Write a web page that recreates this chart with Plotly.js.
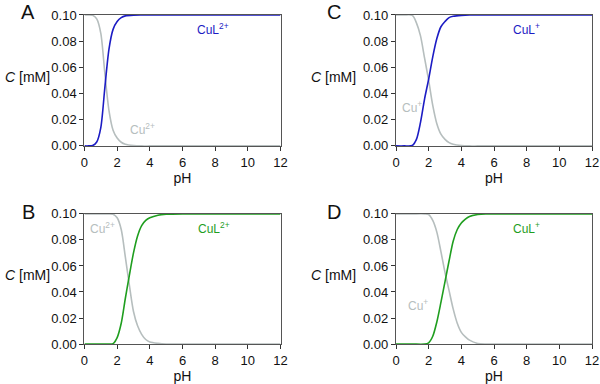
<!DOCTYPE html>
<html>
<head>
<meta charset="utf-8">
<script src="https://cdn.plot.ly/plotly-3.0.1.min.js"></script>
<style>
  body { margin: 0; }
  #plotArea { width: 600px; height: 384px; }
</style>
</head>
<body>
<div id="plotArea"></div>
<script>
// Panel A: Cu2+ / CuL2+ (blue)
var phA = [0, 0.25, 0.5, 0.75, 1, 1.25, 1.5, 1.75, 2, 2.25, 2.5, 3, 3.5, 4, 5, 6, 8, 10, 12];
var culA = [0, 0, 0.0003, 0.003, 0.014, 0.045, 0.074, 0.089, 0.095, 0.098, 0.0993, 0.0999, 0.1, 0.1, 0.1, 0.1, 0.1, 0.1, 0.1];
var cuA = [0.1, 0.1, 0.0997, 0.097, 0.086, 0.055, 0.027, 0.012, 0.006, 0.0028, 0.0013, 0.0003, 0, 0, 0, 0, 0, 0, 0];

// Panel C: Cu+ / CuL+ (blue)
var phC = [0, 0.5, 1, 1.25, 1.5, 1.75, 2, 2.25, 2.5, 2.75, 3, 3.25, 3.5, 4, 4.5, 5, 6, 8, 10, 12];
var culC = [0, 0, 0.0003, 0.005, 0.018, 0.036, 0.051, 0.068, 0.082, 0.091, 0.095, 0.098, 0.099, 0.0997, 0.1, 0.1, 0.1, 0.1, 0.1, 0.1];
var cuC = [0.1, 0.1, 0.0997, 0.094, 0.084, 0.067, 0.050, 0.031, 0.017, 0.009, 0.005, 0.0025, 0.0013, 0.0003, 0, 0, 0, 0, 0, 0];

// Panel B: Cu2+ / CuL2+ (green)
var phB = [0, 1, 1.5, 1.75, 2, 2.25, 2.5, 2.75, 3, 3.25, 3.5, 3.75, 4, 4.5, 5, 6, 8, 10, 12];
var culB = [0, 0, 0, 0.0003, 0.005, 0.016, 0.035, 0.053, 0.070, 0.083, 0.091, 0.095, 0.097, 0.099, 0.0997, 0.1, 0.1, 0.1, 0.1];
var cuB = [0.1, 0.1, 0.1, 0.0997, 0.097, 0.088, 0.067, 0.045, 0.025, 0.014, 0.0075, 0.0035, 0.0016, 0.0005, 0, 0, 0, 0, 0];

// Panel D: Cu+ / CuL+ (green)
var phD = [0, 1, 1.75, 2, 2.25, 2.5, 2.75, 3, 3.25, 3.5, 3.75, 4, 4.25, 4.5, 5, 5.5, 6, 8, 10, 12];
var culD = [0, 0, 0, 0.001, 0.006, 0.017, 0.032, 0.048, 0.064, 0.079, 0.088, 0.093, 0.096, 0.098, 0.0995, 0.1, 0.1, 0.1, 0.1, 0.1];
var cuD = [0.1, 0.1, 0.1, 0.0995, 0.095, 0.086, 0.071, 0.055, 0.041, 0.027, 0.016, 0.009, 0.0055, 0.003, 0.0005, 0, 0, 0, 0, 0];

var blue = "#1c1cc4";
var green = "#1f9e1f";
var grey = "#b6bebe";
var font = "Liberation Sans, Arial, sans-serif";

function curve(x, y, color, xa, ya) {
    return {
        x: x, y: y, xaxis: xa, yaxis: ya,
        type: "scatter", mode: "lines",
        line: {color: color, width: 1.6, shape: "spline", smoothing: 0.8},
        cliponaxis: false, hoverinfo: "skip"
    };
}

var data = [
    curve(phA, cuA, grey, "x", "y"),
    curve(phA, culA, blue, "x", "y"),
    curve(phC, cuC, grey, "x2", "y2"),
    curve(phC, culC, blue, "x2", "y2"),
    curve(phB, cuB, grey, "x3", "y3"),
    curve(phB, culB, green, "x3", "y3"),
    curve(phD, cuD, grey, "x4", "y4"),
    curve(phD, culD, green, "x4", "y4")
];

function xAxis(domain, anchor) {
    return {
        domain: domain, anchor: anchor, range: [0, 12], dtick: 2,
        showgrid: false, zeroline: false,
        showline: true, mirror: true, linecolor: "#555", linewidth: 1.2,
        ticks: "outside", ticklen: 4, tickcolor: "#333",
        tickfont: {family: font, size: 13, color: "#111"},
        title: {text: "pH", font: {family: font, size: 14, color: "#111"}, standoff: 0}
    };
}
function yAxis(domain, anchor) {
    return {
        domain: domain, anchor: anchor, range: [0, 0.1], dtick: 0.02, tickformat: ".2f",
        showgrid: false, zeroline: false,
        showline: true, mirror: true, linecolor: "#555", linewidth: 1.2,
        ticks: "outside", ticklen: 4, tickcolor: "#333",
        tickfont: {family: font, size: 13, color: "#111"}
    };
}

var left = [0.1408, 0.4675];
var right = [0.66, 0.9867];
var top_ = [0.62, 0.961];
var bottom = [0.104, 0.443];

function label(text, x, y, xref, yref, color) {
    return {text: text, x: x, y: y, xref: xref, yref: yref, showarrow: false,
        xanchor: "center", yanchor: "middle",
        font: {family: font, size: 12, color: color}};
}
function letter(text, x, y) {
    return {text: text, x: x, y: y, xref: "paper", yref: "paper", showarrow: false,
        xanchor: "center", yanchor: "middle",
        font: {family: font, size: 20, color: "#111"}};
}
function ytitle(x, y) {
    return {text: "<i>C</i> [mM]", x: x, y: y, xref: "paper", yref: "paper", showarrow: false,
        xanchor: "center", yanchor: "middle",
        font: {family: font, size: 14, color: "#111"}};
}

var annotations = [
    label("CuL<sup>2+</sup>", 7.85, 0.089, "x", "y", blue),
    label("Cu<sup>2+</sup>", 3.55, 0.013, "x", "y", grey),
    label("CuL<sup>+</sup>", 8.0, 0.089, "x2", "y2", blue),
    label("Cu<sup>+</sup>", 1.0, 0.030, "x2", "y2", grey),
    label("Cu<sup>2+</sup>", 1.1, 0.089, "x3", "y3", grey),
    label("CuL<sup>2+</sup>", 7.9, 0.089, "x3", "y3", green),
    label("CuL<sup>+</sup>", 8.0, 0.089, "x4", "y4", green),
    label("Cu<sup>+</sup>", 1.35, 0.030, "x4", "y4", grey),
    letter("A", 0.047, 0.969),
    letter("C", 0.557, 0.969),
    letter("B", 0.047, 0.448),
    letter("D", 0.557, 0.448),
    ytitle(0.045, 0.80),
    ytitle(0.555, 0.80),
    ytitle(0.045, 0.284),
    ytitle(0.555, 0.284)
];

var layout = {
    width: 600, height: 384,
    margin: {l: 0, r: 0, t: 0, b: 0},
    paper_bgcolor: "white", plot_bgcolor: "white",
    showlegend: false,
    xaxis: xAxis(left, "y"), yaxis: yAxis(top_, "x"),
    xaxis2: xAxis(right, "y2"), yaxis2: yAxis(top_, "x2"),
    xaxis3: xAxis(left, "y3"), yaxis3: yAxis(bottom, "x3"),
    xaxis4: xAxis(right, "y4"), yaxis4: yAxis(bottom, "x4"),
    annotations: annotations
};

Plotly.newPlot("plotArea", data, layout, {displayModeBar: false, staticPlot: true});
</script>
</body>
</html>
